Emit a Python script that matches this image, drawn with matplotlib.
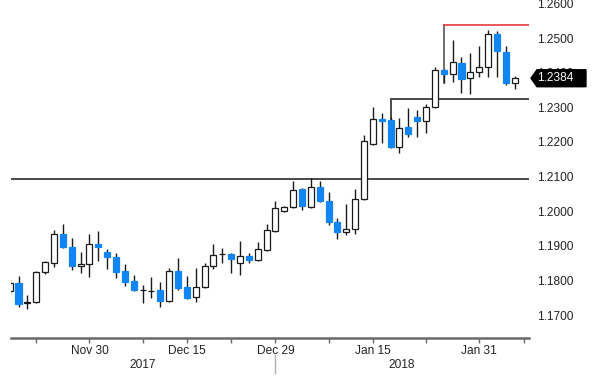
import numpy as np
import pandas as pd
import matplotlib
matplotlib.use('Agg')
import matplotlib.pyplot as plt
from matplotlib.patches import Rectangle, Polygon
from matplotlib.transforms import blended_transform_factory

plt.rcParams['font.family'] = ['Liberation Sans Narrow', 'Liberation Sans', 'DejaVu Sans']

# business days shown on the axis (data ends Feb 6, axis runs to Feb 7)
axis_days = pd.bdate_range('2017-11-17', '2018-02-07')

opens = [1.1769, 1.1792, 1.1736, 1.1738, 1.1824, 1.1850, 1.1934, 1.1896, 1.1842, 1.1847,
         1.1905, 1.1882, 1.1868, 1.1827, 1.1798, 1.1772, 1.1769, 1.1772, 1.1740, 1.1827,
         1.1781, 1.1752, 1.1781, 1.1842, 1.1875, 1.1876, 1.1850, 1.1870, 1.1859, 1.1888,
         1.1943, 1.2000, 1.2012, 1.2064, 1.2012, 1.2070, 1.2029, 1.1969, 1.1940, 1.1948,
         1.2035, 1.2194, 1.2266, 1.2263, 1.2185, 1.2243, 1.2272, 1.2260, 1.2301, 1.2408,
         1.2396, 1.2428, 1.2385, 1.2402, 1.2416, 1.2512, 1.2460, 1.2370]
highs = [1.1801, 1.1813, 1.1758, 1.1827, 1.1856, 1.1946, 1.1963, 1.1922, 1.1882, 1.1934,
         1.1943, 1.1891, 1.1879, 1.1847, 1.1816, 1.1787, 1.1810, 1.1795, 1.1836, 1.1865,
         1.1813, 1.1836, 1.1850, 1.1905, 1.1894, 1.1879, 1.1914, 1.1879, 1.1911, 1.1963,
         1.2029, 1.2015, 1.2087, 1.2067, 1.2096, 1.2087, 1.2055, 1.1980, 1.2021, 1.2064,
         1.2220, 1.2301, 1.2284, 1.2272, 1.2269, 1.2298, 1.2292, 1.2310, 1.2416, 1.2410,
         1.2494, 1.2445, 1.2457, 1.2477, 1.2523, 1.2520, 1.2477, 1.2390]
lows = [1.1761, 1.1723, 1.1717, 1.1735, 1.1818, 1.1839, 1.1893, 1.1830, 1.1821, 1.1810,
        1.1856, 1.1833, 1.1807, 1.1784, 1.1770, 1.1735, 1.1749, 1.1723, 1.1738, 1.1772,
        1.1747, 1.1738, 1.1779, 1.1833, 1.1850, 1.1821, 1.1816, 1.1850, 1.1857, 1.1885,
        1.1940, 1.1997, 1.2009, 1.2003, 1.2009, 1.2026, 1.1960, 1.1920, 1.1931, 1.1934,
        1.2032, 1.2191, 1.2197, 1.2182, 1.2168, 1.2214, 1.2214, 1.2226, 1.2298, 1.2370,
        1.2373, 1.2341, 1.2338, 1.2388, 1.2388, 1.2388, 1.2364, 1.2353]
closes = [1.1792, 1.1732, 1.1738, 1.1824, 1.1853, 1.1934, 1.1896, 1.1842, 1.1847, 1.1905,
          1.1896, 1.1868, 1.1824, 1.1795, 1.1772, 1.1773, 1.1770, 1.1740, 1.1827, 1.1778,
          1.1749, 1.1781, 1.1842, 1.1873, 1.1876, 1.1862, 1.1870, 1.1859, 1.1891, 1.1946,
          1.2009, 1.2012, 1.2061, 1.2015, 1.2070, 1.2029, 1.1969, 1.1940, 1.1948, 1.2035,
          1.2203, 1.2266, 1.2260, 1.2185, 1.2240, 1.2223, 1.2260, 1.2301, 1.2408, 1.2396,
          1.2431, 1.2382, 1.2402, 1.2416, 1.2512, 1.2463, 1.2370, 1.2384]

# drawn levels
level_low = 1.2093
level_mid = 1.2324
level_top = 1.2538
mid_anchor = '2018-01-17'
top_anchor = '2018-01-25'

major_dates = ['2017-11-30', '2017-12-15', '2017-12-29', '2018-01-15', '2018-01-31']
minor_dates = ['2017-11-22', '2017-12-08', '2017-12-22', '2018-01-08', '2018-01-23', '2018-02-07']
yticks = [1.17, 1.18, 1.19, 1.20, 1.21, 1.22, 1.23, 1.24, 1.25, 1.26]

blue = '#1185f3'
dark = '#1a1a1a'

fig = plt.figure(figsize=(6, 3.87), dpi=100)
ax = fig.add_axes([11 / 600, 49 / 387, 518 / 600, 338 / 387])

xs = np.arange(len(opens))
w = 0.68
for x, o, h, l, c in zip(xs, opens, highs, lows, closes):
    ax.vlines(x, l, h, color=dark, lw=1, zorder=2)
    if c >= o:
        ax.add_patch(Rectangle((x - w / 2, o), w, c - o, facecolor='white',
                               edgecolor=dark, lw=0.9, zorder=3))
    else:
        ax.add_patch(Rectangle((x - w / 2, c), w, o - c, facecolor=blue,
                               edgecolor=blue, lw=0.9, zorder=3))

xmin, xmax = 0.153, 58.62
ax.set_xlim(xmin, xmax)
ax.set_ylim(1.16336, 1.261)

# level lines
ax.axhline(level_low, color='#4a4a4a', lw=1.4, zorder=1)
mi = axis_days.get_loc(pd.Timestamp(mid_anchor))
ax.plot([mi, mi, xmax], [opens[mi], level_mid, level_mid], color='#4a4a4a', lw=1.4,
        zorder=1, solid_joinstyle='miter')
ti = axis_days.get_loc(pd.Timestamp(top_anchor))
ax.plot([ti, ti], [lows[ti], level_top], color='#555555', lw=1.2, zorder=1)
ax.plot([ti, xmax], [level_top, level_top], color='#e8383a', lw=1.2, zorder=1)

# axes styling
for s in ['top', 'left', 'right']:
    ax.spines[s].set_visible(False)
ax.spines['bottom'].set_color('#6a6a6a')
ax.spines['bottom'].set_linewidth(1.8)

ax.yaxis.tick_right()
ax.set_yticks(yticks)
ax.set_yticklabels([f'{v:.4f}' for v in yticks])
ax.tick_params(axis='y', length=0, pad=5.8, labelsize=8.6, labelcolor='#222222')

ax.set_xticks([axis_days.get_loc(pd.Timestamp(d)) for d in major_dates])
ax.set_xticklabels([pd.Timestamp(d).strftime('%b %d') for d in major_dates])
ax.set_xticks([axis_days.get_loc(pd.Timestamp(d)) for d in minor_dates], minor=True)
ax.tick_params(axis='x', which='both', length=3.5, width=1, color='#6a6a6a',
               labelsize=8.6, labelcolor='#222222', pad=1.5)

trans = ax.get_xaxis_transform()
ax.text(15, -0.08, '2017', transform=trans, ha='center', va='center',
        fontsize=8.6, color='#222222')
ax.text(44.3, -0.08, '2018', transform=trans, ha='center', va='center',
        fontsize=8.6, color='#222222')
ax.plot([30, 30], [-0.05, -0.104], transform=trans, color='#b0b0b0', lw=1,
        clip_on=False)

# last price tag
last = closes[-1]
bt = blended_transform_factory(ax.transAxes, ax.transData)
hh = 0.00245
tag = Polygon([[1.0039, last], [1.0154, last + hh], [1.110, last + hh],
               [1.110, last - hh], [1.0154, last - hh]], closed=True,
              facecolor='black', edgecolor='black', transform=bt, clip_on=False, zorder=5)
ax.add_patch(tag)
ax.text(1.0154, last, f'{last:.4f}', transform=bt, ha='left', va='center',
        color='white', fontsize=8.6, zorder=6, clip_on=False)

fig.savefig('out.png', dpi=100)
